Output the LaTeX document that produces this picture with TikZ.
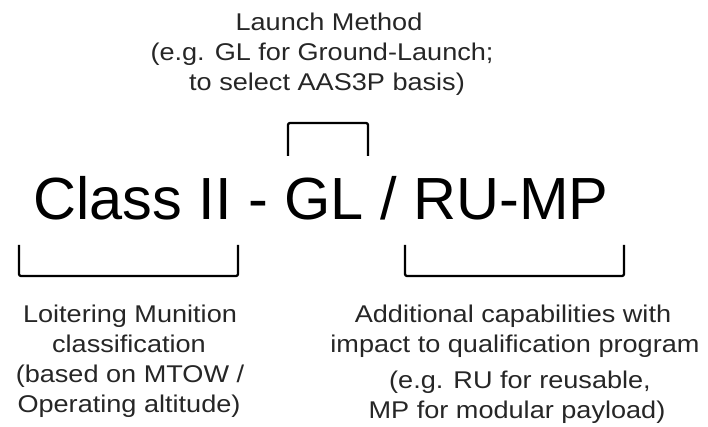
\documentclass[tikz,border=0pt]{standalone}
\usepackage{fontspec}
\setmainfont{Liberation Sans}
\newfontfamily\widesans{Liberation Sans}[FakeStretch=1.12]
\begin{document}
\begin{tikzpicture}[x=1pt,y=-1pt,
  small/.style={font=\widesans\fontsize{24.2}{30}\selectfont, text=black!85, inner sep=0pt, anchor=base},
  big/.style={font=\fontsize{59.5}{70}\selectfont, text=black, inner sep=0pt, anchor=base},
  bracket/.style={line width=2.3pt, rounded corners=2pt, line join=round}]
\useasboundingbox (0,0) rectangle (708,427);
% top label
\node[small] (t1) at (329,31) {Launch Method};
\node[small] (t2) at (322,61) {(e.g. GL for Ground-Launch;};
\node[small] (t3) at (327,91) {to select AAS3P basis)};
% main code
\node[big] (main) at (321,220) {Class II - GL / RU-MP};
% brackets
\draw[bracket] (288,156) -- (288,123) -- (368,123) -- (368,156);
\draw[bracket] (19,245) -- (19,276) -- (238,276) -- (238,245);
\draw[bracket] (405,245) -- (405,276) -- (624,276) -- (624,245);
% bottom left
\node[small] (l1) at (130,322) {Loitering Munition};
\node[small] (l2) at (129,352) {classification};
\node[small] (l3) at (130,382) {(based on MTOW /};
\node[small] (l4) at (129,412) {Operating altitude)};
% bottom right
\node[small] (r1) at (513,322) {Additional capabilities with};
\node[small] (r2) at (515,352) {impact to qualification program};
\node[small] (r3) at (520,388) {(e.g. RU for reusable,};
\node[small] (r4) at (517,418) {MP for modular payload)};
\end{tikzpicture}
\end{document}
